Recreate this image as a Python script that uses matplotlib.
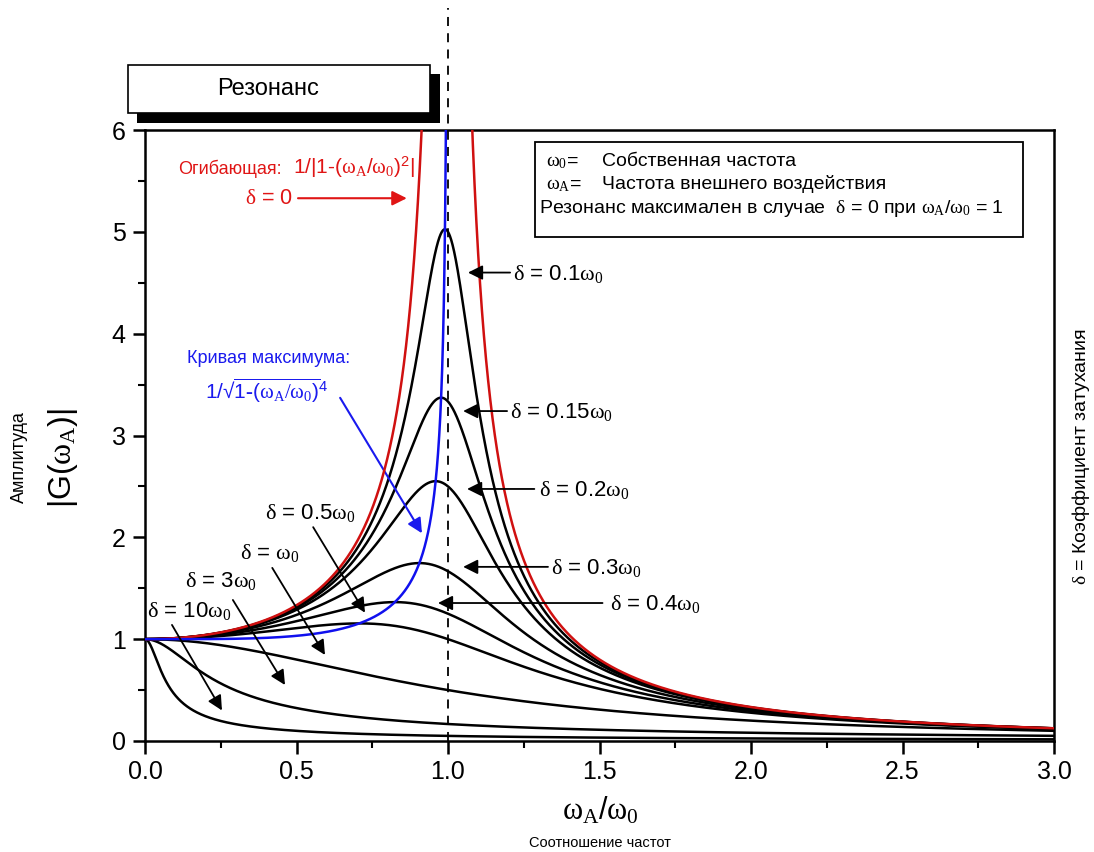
import numpy as np
import matplotlib
matplotlib.use("Agg")
import matplotlib.pyplot as plt
from matplotlib.patches import Rectangle

plt.rcParams['font.family'] = ['Liberation Sans', 'DejaVu Sans']
plt.rcParams['mathtext.fontset'] = 'custom'
plt.rcParams['mathtext.rm'] = 'Liberation Serif'
plt.rcParams['mathtext.it'] = 'Liberation Serif'
plt.rcParams['mathtext.bf'] = 'Liberation Serif:bold'
plt.rcParams['mathtext.sf'] = 'Liberation Sans'

# ---- data ----
damping = [0.1, 0.15, 0.2, 0.3, 0.4, 0.5, 1.0, 3.0, 10.0]
x_ticks = [0.0, 0.5, 1.0, 1.5, 2.0, 2.5, 3.0]
x_tick_labels = ["0.0", "0.5", "1.0", "1.5", "2.0", "2.5", "3.0"]
y_ticks = [0, 1, 2, 3, 4, 5, 6]
y_tick_labels = ["0", "1", "2", "3", "4", "5", "6"]
resonance_ratio = 1.0

W, H = 1094, 852
fig = plt.figure(figsize=(W / 100, H / 100), dpi=100)
ax = fig.add_axes([145 / W, 1 - 741 / H, (1054 - 145) / W, (741 - 130) / H])

def fx(px):
    return px / W

def fy(py):
    return 1 - py / H

eta = np.linspace(0, 3, 6001)
for d in damping:
    g = 1.0 / np.sqrt((1 - eta**2) ** 2 + (2 * d * eta) ** 2)
    ax.plot(eta, g, color='black', lw=1.8, zorder=3)

# envelope (delta = 0)
eta_l = np.linspace(0, 0.9995, 4000)
eta_r = np.linspace(1.0005, 3, 4000)
ax.plot(eta_l, 1 / np.abs(1 - eta_l**2), color='#d01010', lw=1.8, zorder=4)
ax.plot(eta_r, 1 / np.abs(1 - eta_r**2), color='#d01010', lw=1.8, zorder=4)

# maximum curve
eta_b = np.linspace(0, 0.99995, 6000)
ax.plot(eta_b, 1 / np.sqrt(1 - eta_b**4), color='#1010ee', lw=1.8, zorder=5)

# dashed resonance line
ax.plot([resonance_ratio, resonance_ratio], [0, 7.2], color='black', lw=1.3,
        ls=(0, (5, 4)), clip_on=False, zorder=6)

ax.set_xlim(0, 3)
ax.set_ylim(0, 6)
ax.set_xticks(x_ticks)
ax.set_xticklabels(x_tick_labels)
ax.set_yticks(y_ticks)
ax.set_yticklabels(y_tick_labels)
ax.set_xticks(np.arange(0.25, 3.0, 0.5), minor=True)
ax.set_yticks(np.arange(0.5, 6.0, 1.0), minor=True)
ax.tick_params(which='major', direction='out', length=9, width=1.8, labelsize=18, pad=5)
ax.tick_params(which='minor', direction='out', length=5, width=1.5)
for s in ax.spines.values():
    s.set_linewidth(1.8)

# ---- annotations ----
arrow_k = dict(arrowstyle='-|>', color='black', lw=1.3, mutation_scale=22,
               shrinkA=0, shrinkB=0)
fs_lab = 16

right_labels = [
    (r"$\delta$ = 0.1$\omega_0$", 1.215, 4.53, 1.205, 1.066, 4.60),
    (r"$\delta$ = 0.15$\omega_0$", 1.205, 3.17, 1.195, 1.05, 3.24),
    (r"$\delta$ = 0.2$\omega_0$", 1.30, 2.41, 1.285, 1.063, 2.475),
    (r"$\delta$ = 0.3$\omega_0$", 1.34, 1.64, 1.33, 1.05, 1.71),
    (r"$\delta$ = 0.4$\omega_0$", 1.535, 1.29, 1.51, 0.967, 1.355),
]
for txt, tx, ty, tail, head, ay in right_labels:
    ax.text(tx, ty, txt, fontsize=fs_lab, ha='left', va='baseline', zorder=7)
    ax.annotate('', xy=(head, ay), xytext=(tail, ay), arrowprops=arrow_k, zorder=7)

left_labels = [
    (r"$\delta$ = 0.5$\omega_0$", 0.396, 2.18, (0.555, 2.10), (0.726, 1.26)),
    (r"$\delta$ = $\omega_0$", 0.313, 1.79, (0.42, 1.70), (0.594, 0.845)),
    (r"$\delta$ = 3$\omega_0$", 0.132, 1.51, (0.29, 1.385), (0.462, 0.55)),
    (r"$\delta$ = 10$\omega_0$", 0.007, 1.22, (0.089, 1.14), (0.254, 0.30)),
]
for txt, tx, ty, tail, head in left_labels:
    ax.text(tx, ty, txt, fontsize=fs_lab, ha='left', va='baseline', zorder=7)
    ax.annotate('', xy=head, xytext=tail, arrowprops=arrow_k, zorder=7)

red = '#e01515'
ax.text(0.109, 5.57, "Огибающая:", fontsize=13, color=red, ha='left', va='baseline')
ax.text(0.488, 5.57,
        r"1/|1-($\omega_{\mathrm{A}}$/$\omega_0$)$^{\mathsf{2}}$|",
        fontsize=15, color=red, ha='left', va='baseline')
ax.text(0.33, 5.27, r"$\delta$ = 0", fontsize=15.5, color=red, ha='left', va='baseline')
ax.annotate('', xy=(0.864, 5.33), xytext=(0.505, 5.33),
            arrowprops=dict(arrowstyle='-|>', color=red, lw=1.5, mutation_scale=22,
                            shrinkA=0, shrinkB=0))

blue = '#1a1aee'
ax.text(0.138, 3.71, "Кривая максимума:", fontsize=13, color=blue, ha='left', va='baseline')
ax.text(0.198, 3.36,
        r"1/√$\overline{\mathsf{1}\text{-}\mathsf{(}\omega_{\mathrm{A}}/\omega_0\mathsf{)}}^{\mathsf{4}}$",
        fontsize=15, color=blue, ha='left', va='baseline')
ax.annotate('', xy=(0.914, 2.04), xytext=(0.644, 3.37),
            arrowprops=dict(arrowstyle='-|>', color=blue, lw=1.5, mutation_scale=22,
                            shrinkA=0, shrinkB=0))

# info box
fig.add_artist(Rectangle((fx(535), fy(237)), fx(1023) - fx(535), fy(142) - fy(237),
                         transform=fig.transFigure, facecolor='white', edgecolor='black',
                         lw=1.3, zorder=10))
fig.text(fx(546), fy(166), r"$\omega_0$= ", fontsize=14, ha='left', va='baseline', zorder=11)
fig.text(fx(602), fy(166), "Собственная частота", fontsize=14, ha='left', va='baseline', zorder=11)
fig.text(fx(546), fy(189), r"$\omega_{\mathrm{A}}$= ", fontsize=14, ha='left', va='baseline', zorder=11)
fig.text(fx(602), fy(189), "Частота внешнего воздействия", fontsize=14, ha='left', va='baseline', zorder=11)
fig.text(fx(539), fy(213),
         r"Резонанс максимален в случае  $\delta$ = 0 при $\omega_{\mathrm{A}}$/$\omega_0$ = 1",
         fontsize=14, ha='left', va='baseline', zorder=11)

# resonance box with shadow
fig.add_artist(Rectangle((fx(137), fy(123)), fx(440) - fx(137), fy(74) - fy(123),
                         transform=fig.transFigure, facecolor='black', edgecolor='black',
                         lw=0, zorder=10))
fig.add_artist(Rectangle((fx(128), fy(113)), fx(430) - fx(128), fy(65) - fy(113),
                         transform=fig.transFigure, facecolor='white', edgecolor='black',
                         lw=1.2, zorder=11))
fig.text(fx(268), fy(89), "Резонанс", fontsize=17, ha='center', va='center', zorder=12)

# axis labels
fig.text(fx(600), fy(820), r"$\omega_{\mathrm{A}}$/$\omega_0$", fontsize=22, ha='center', va='baseline')
fig.text(fx(600), fy(843), "Соотношение частот", fontsize=10.5, ha='center', va='center')
fig.text(fx(63), fy(458), r"|G($\omega_{\mathrm{A}}$)|", fontsize=23, rotation=90, ha='center', va='center')
fig.text(fx(19), fy(457), "Амплитуда", fontsize=13, rotation=90, ha='center', va='center')
fig.text(fx(1081), fy(457), r"$\delta$ = Коэффициент затухания", fontsize=14, rotation=90,
         ha='center', va='center')

fig.savefig("out.png", dpi=100)
